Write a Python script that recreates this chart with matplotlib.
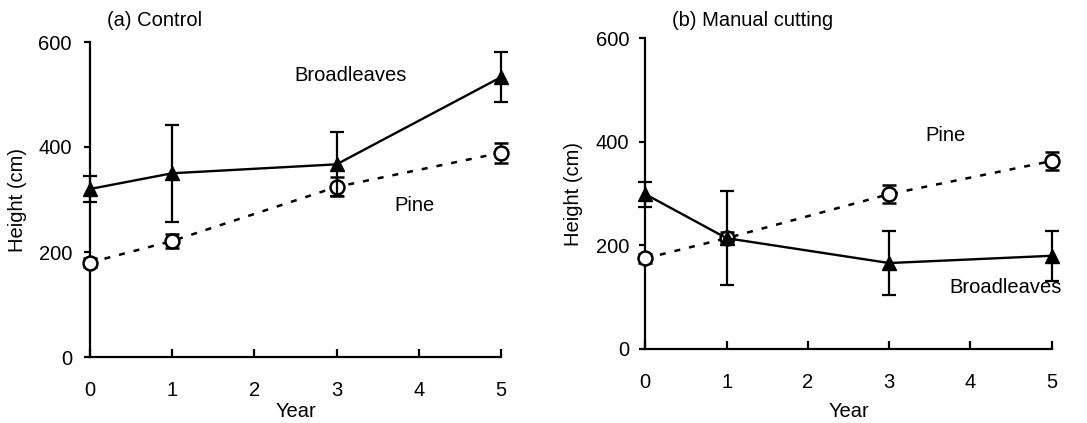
import numpy as np
import matplotlib.pyplot as plt

plt.rcParams['font.family'] = ['Liberation Sans', 'DejaVu Sans']

# data
years = [0, 1, 3, 5]

# (a) Control
ctrl_broad = [320, 350, 367, 533]
ctrl_broad_err = [24, 92, 61, 48]
ctrl_pine = [180, 221, 324, 389]
ctrl_pine_err = [8, 13, 18, 19]

# (b) Manual cutting
cut_broad = [299, 214, 166, 180]
cut_broad_err = [24, 91, 61, 48]
cut_pine = [175, 214, 299, 363]
cut_pine_err = [8, 12, 18, 18]

W, H = 1087, 423
fig = plt.figure(figsize=(W/100, H/100), dpi=100)
ax1 = fig.add_axes([90/W, 1-357/H, 411/W, 315/H])
ax2 = fig.add_axes([645.3/W, 1-349/H, 406.4/W, 310.7/H])

FS = 14.5


def draw(ax, broad, broad_err, pine, pine_err, ypad):
    ax.errorbar(years, pine, yerr=pine_err, color='black', ls=(0, (2.4, 3.6)),
                lw=1.8, marker='o', ms=10, mfc='white', mec='black', mew=1.8,
                capsize=5, elinewidth=1.6, capthick=1.6, clip_on=False, zorder=3)
    ax.errorbar(years, broad, yerr=broad_err, color='black', ls='-',
                lw=1.7, marker='^', ms=10, mfc='black', mec='black',
                capsize=5, elinewidth=1.6, capthick=1.6, clip_on=False, zorder=4)
    ax.set_xlim(0, 5)
    ax.set_ylim(0, 600)
    ax.set_xticks([0, 1, 2, 3, 4, 5])
    ax.set_yticks([0, 200, 400, 600])
    for s in ['top', 'right']:
        ax.spines[s].set_visible(False)
    for s in ['left', 'bottom']:
        ax.spines[s].set_linewidth(1.6)
    ax.tick_params(axis='x', direction='in', length=6, width=1.6, pad=17, labelsize=FS)
    ax.tick_params(axis='y', direction='out', length=4, width=1.6, pad=ypad, labelsize=FS)
    ax.set_xlabel('Year', fontsize=FS)
    ax.set_ylabel('Height (cm)', fontsize=FS)


draw(ax1, ctrl_broad, ctrl_broad_err, ctrl_pine, ctrl_pine_err, 9)
ax1.xaxis.set_label_coords(0.5, -0.143)
ax1.yaxis.set_label_coords(-0.153, 0.5)
ax1.text(2.49, 537, 'Broadleaves', fontsize=FS, va='center', ha='left')
ax1.text(3.7, 289, 'Pine', fontsize=FS, va='center', ha='left')
fig.text(107/W, 1-20/H, '(a) Control', fontsize=FS, va='center', ha='left')

draw(ax2, cut_broad, cut_broad_err, cut_pine, cut_pine_err, 7.5)
ax2.xaxis.set_label_coords(0.5, -0.17)
ax2.yaxis.set_label_coords(-0.153, 0.5)
ax2.text(3.45, 413, 'Pine', fontsize=FS, va='center', ha='left')
ax2.text(3.74, 119, 'Broadleaves', fontsize=FS, va='center', ha='left')
fig.text(671.7/W, 1-20/H, '(b) Manual cutting', fontsize=FS, va='center', ha='left')

fig.savefig('out.png', dpi=100)
